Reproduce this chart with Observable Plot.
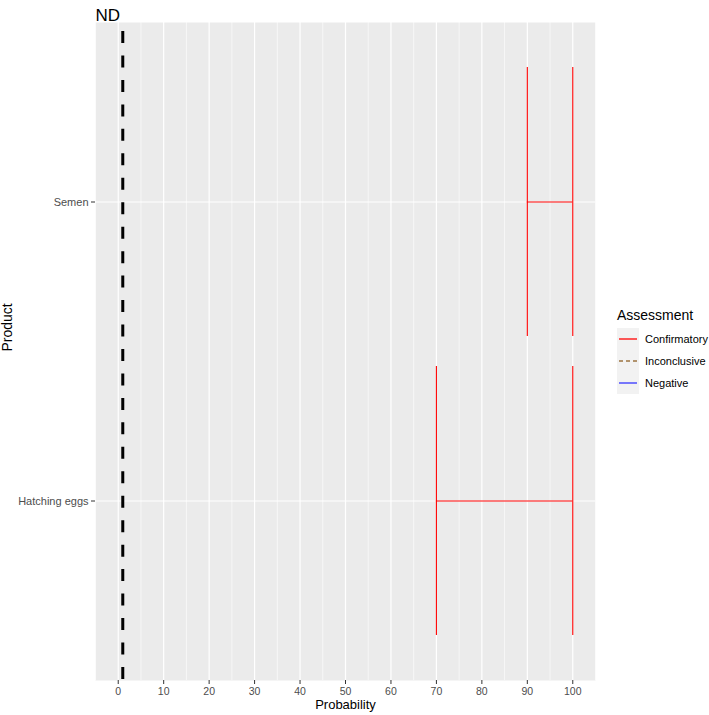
<!DOCTYPE html>
<html>
<head>
<meta charset="utf-8">
<script src="https://cdn.jsdelivr.net/npm/d3@7"></script>
<script src="https://cdn.jsdelivr.net/npm/@observablehq/plot@0.6"></script>
<style>
  body { margin: 0; background: #fff; }
  #chart { position: relative; width: 709px; height: 715px; }
</style>
</head>
<body>
<div id="chart"></div>
<script>
// ---- data ----
const products = ["Semen", "Hatching eggs"];
const lower = [90, 70];
const upper = [100, 100];
const assessment = ["Confirmatory", "Confirmatory"];
const threshold = [1];
const xTicks = [0, 10, 20, 30, 40, 50, 60, 70, 80, 90, 100];
const xMinor = [-5, 5, 15, 25, 35, 45, 55, 65, 75, 85, 95, 105];
const legendLevels = ["Confirmatory", "Inconclusive", "Negative"];
const legendColors = ["#FF0000", "#9C7442", "#3333FF"];
const legendDash = [null, "4,3", null];

const rows = products.map((p, i) => ({product: p, lo: lower[i], hi: upper[i], assessment: assessment[i]}));
const colorOf = a => legendColors[legendLevels.indexOf(a)];

const font = "'Liberation Sans', Arial, sans-serif";

const plot = Plot.plot({
  width: 709,
  height: 715,
  marginLeft: 95,
  marginRight: 114,
  marginTop: 22,
  marginBottom: 35,
  style: {fontFamily: font, background: "#fff", color: "#4d4d4d"},
  x: {domain: [-5, 105]},
  y: {type: "band", domain: products, paddingInner: 0.1, paddingOuter: 0.15},
  marks: [
    Plot.frame({fill: "#EBEBEB", stroke: null}),
    Plot.ruleX(xMinor, {stroke: "#ffffff", strokeWidth: 0.6}),
    Plot.ruleX(xTicks, {stroke: "#ffffff", strokeWidth: 1.2}),
    Plot.ruleY(products, {y: d => d, stroke: "#ffffff", strokeWidth: 1.2}),
    Plot.ruleX(threshold, {stroke: "#000", strokeWidth: 3, strokeDasharray: "12,12.46", strokeDashoffset: 15.46, strokeLinecap: "butt"}),
    Plot.ruleY(rows, {y: "product", x1: "lo", x2: "hi", stroke: d => colorOf(d.assessment), strokeWidth: 1.1}),
    Plot.ruleX(rows, {x: "lo", y1: "product", y2: "product", stroke: d => colorOf(d.assessment), strokeWidth: 1.1}),
    Plot.ruleX(rows, {x: "hi", y1: "product", y2: "product", stroke: d => colorOf(d.assessment), strokeWidth: 1.1}),
    Plot.axisX({ticks: xTicks, tickSize: 4, tickPadding: 3, fontSize: 10.5, stroke: "#333333", fill: "#4d4d4d", label: null}),
    Plot.axisY({tickSize: 4, tickPadding: 3, fontSize: 11, stroke: "#333333", fill: "#4d4d4d", label: null}),
    Plot.text(["Probability"], {frameAnchor: "bottom", dy: 28, fontSize: 13, fill: "#000"}),
    Plot.text(["Product"], {frameAnchor: "left", dx: -88, rotate: -90, fontSize: 14, fill: "#000"}),
    Plot.text(["ND"], {frameAnchor: "top-left", dy: -14, textAnchor: "start", fontSize: 17, fill: "#000"})
  ]
});

document.getElementById("chart").appendChild(plot);

// ---- legend ----
const svg = d3.select(plot);
const lg = svg.append("g").attr("font-family", font).attr("text-anchor", "start");
lg.append("text").attr("x", 617).attr("y", 320).attr("font-size", 14).attr("fill", "#000").text("Assessment");
lg.append("rect").attr("x", 617).attr("y", 328).attr("width", 22).attr("height", 66).attr("fill", "#F2F2F2");
legendLevels.forEach((lev, i) => {
  const cy = 339 + i * 22;
  lg.append("line").attr("x1", 619).attr("x2", 637).attr("y1", cy).attr("y2", cy)
    .attr("stroke", legendColors[i]).attr("stroke-width", 1.3)
    .attr("stroke-dasharray", legendDash[i]);
  lg.append("text").attr("x", 645).attr("y", cy).attr("dy", "0.35em").attr("font-size", 11)
    .attr("fill", "#000").text(lev);
});
</script>
</body>
</html>
